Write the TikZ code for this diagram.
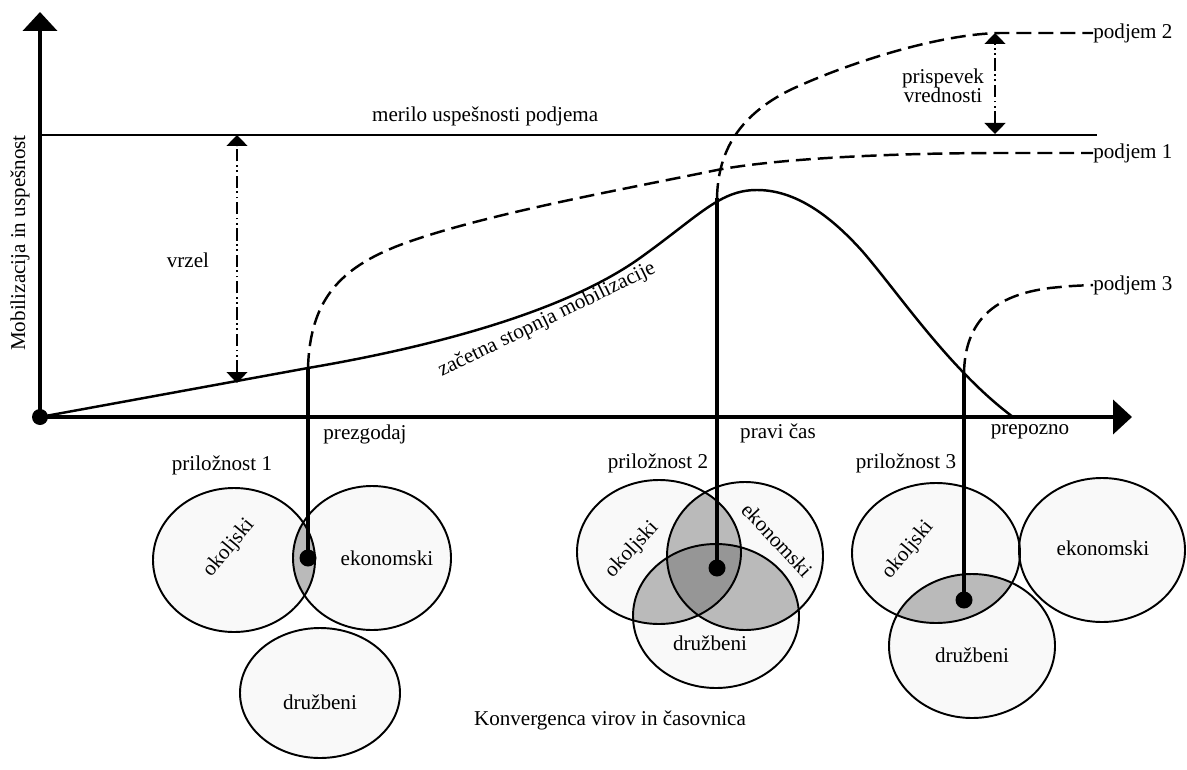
\documentclass[tikz,border=0pt]{standalone}
\usepackage{fontspec}
\setmainfont{Liberation Serif}
\usepackage{tikz}
\usetikzlibrary{arrows.meta, positioning, calc}
\definecolor{setfill}{RGB}{249,249,249}
\definecolor{lensgray}{RGB}{186,186,186}
\definecolor{coregray}{RGB}{150,150,150}
\tikzset{
  axis/.style={line width=2.3pt, -{Triangle[length=0.38cm, width=0.68cm]}},
  bar/.style={line width=1.7pt},
  curve/.style={line width=1.4pt},
  trail/.style={line width=1.4pt, dash pattern=on 8.5pt off 4pt},
  span/.style={line width=0.8pt,
    {Triangle[length=0.22cm, width=0.42cm]}-{Triangle[length=0.22cm, width=0.42cm]},
    dash pattern=on 7pt off 2pt on 1pt off 2pt on 1pt off 2pt},
  setring/.style={line width=1.1pt},
  riser/.style={line width=1.8pt},
  lbl/.style={font=\fontsize{12}{14}\selectfont, inner sep=1pt},
  pin/.style={circle, fill=black, inner sep=0pt, minimum size=0.34cm}
}
% set outlines (x = px, y = px downwards)
\def\okA{(234,560) ellipse [x radius=81, y radius=72]}
\def\ekA{(372,558) ellipse [x radius=79, y radius=72]}
\def\drA{(320,693) ellipse [x radius=80, y radius=65]}
\def\okB{(659,552) ellipse [x radius=82, y radius=72]}
\def\ekB{(745,556) ellipse [x radius=78, y radius=74]}
\def\drB{(716,616) ellipse [x radius=83, y radius=72]}
\def\okC{(936,553) ellipse [x radius=84, y radius=70]}
\def\ekC{(1102,550) ellipse [x radius=83, y radius=72]}
\def\drC{(972,646) ellipse [x radius=83, y radius=72]}

\begin{document}
\begin{tikzpicture}[x=0.2mm, y=-0.2mm]
  \useasboundingbox (0,0) rectangle (1187,769);

  % Sets: fills
  \fill[setfill] \okA; \fill[setfill] \ekA; \fill[setfill] \drA;
  \fill[setfill] \okB; \fill[setfill] \ekB; \fill[setfill] \drB;
  \fill[setfill] \okC; \fill[setfill] \ekC; \fill[setfill] \drC;

  % Overlaps
  \begin{scope}\clip \okA; \fill[lensgray] \ekA; \end{scope}
  \begin{scope}\clip \okB; \fill[lensgray] \ekB; \fill[lensgray] \drB; \end{scope}
  \begin{scope}\clip \ekB; \fill[lensgray] \drB; \end{scope}
  \begin{scope}\clip \okB; \clip \ekB; \fill[coregray] \drB; \end{scope}
  \begin{scope}\clip \okC; \fill[lensgray] \drC; \end{scope}

  % Sets: outlines
  \draw[setring] \okA; \draw[setring] \ekA; \draw[setring] \drA;
  \draw[setring] \okB; \draw[setring] \ekB; \draw[setring] \drB;
  \draw[setring] \okC; \draw[setring] \ekC; \draw[setring] \drC;

  % Axes
  \node[pin, minimum size=0.32cm] (o) at (40,417) {};
  \coordinate (ytip) at (40,12);
  \coordinate (xtip) at (1132,417);
  \draw[axis] (o.center) -- (ytip);
  \draw[axis] (o.center) -- (xtip);
  \node[lbl, rotate=90] (ylab) at (20,243) {Mobilizacija in uspešnost};

  % Success level
  \coordinate (barl) at (40,135);
  \coordinate (barr) at (1097,135);
  \draw[bar] (barl) -- (barr);
  \node[lbl, anchor=base west] (barlab) at (370,122) {merilo uspešnosti podjema};

  % Initial mobilization
  \coordinate (rise1) at (308,368);
  \coordinate (peak) at (757,190);
  \coordinate (fade) at (1013,417);
  \draw[curve] (o.center) -- (rise1)
    .. controls (420,349) and (560,315) .. (640,258)
    .. controls (700,215) and (720,190) .. (peak)
    .. controls (795,190) and (830,215) .. (863,252)
    .. controls (900,295) and (950,370) .. (fade);
  \node[lbl, rotate=26] (initlab) at (547,320) {začetna stopnja mobilizacije};

  % Gap
  \coordinate (gaptop) at (237,135);
  \coordinate (gapbot) at (237,383);
  \draw[span] (gapbot) -- (gaptop);
  \node[lbl] (gaplab) at (188,260) {vrzel};

  % Opportunity 1
  \node[pin] (hit1) at (308,558) {};
  \draw[riser] (hit1.center) -- (rise1);
  \node[lbl, anchor=west, inner sep=0pt] (p1lab) at (1093,153) {podjem 1};
  \draw[trail] (rise1) .. controls (310,300) and (340,268) .. (400,245)
    .. controls (480,215) and (620,190) .. (717,170)
    .. controls (780,158) and (900,153) .. (1000,153) -- (p1lab.west);

  % Opportunity 2
  \node[pin] (hit2) at (717,568) {};
  \coordinate (rise2) at (717,198);
  \draw[riser] (hit2.center) -- (rise2);
  \node[lbl, anchor=west, inner sep=0pt] (p2lab) at (1093,33) {podjem 2};
  \draw[trail] (rise2) .. controls (718,150) and (740,115) .. (790,90)
    .. controls (850,62) and (940,34) .. (1000,33) -- (p2lab.west);

  % Value contribution
  \coordinate (addtop) at (995,33);
  \coordinate (addbot) at (995,134);
  \draw[span] (addbot) -- (addtop);
  \node[lbl, align=center] (addlab) at (943,86) {prispevek\\[-3pt]vrednosti};

  % Opportunity 3
  \node[pin] (hit3) at (964,600) {};
  \coordinate (rise3) at (964,373);
  \draw[riser] (hit3.center) -- (rise3);
  \node[lbl, anchor=west, inner sep=0pt] (p3lab) at (1093,285) {podjem 3};
  \draw[trail] (rise3) .. controls (965,320) and (995,295) .. (1050,288)
    .. controls (1070,286) .. (p3lab.west);

  % Timing labels
  \node[lbl] (early) at (365,434) {prezgodaj};
  \node[lbl] (ontime) at (778,433) {pravi čas};
  \node[lbl] (late) at (1030,432) {prepozno};
  \node[lbl] (opp1) at (222,465) {priložnost 1};
  \node[lbl] (opp2) at (658,463) {priložnost 2};
  \node[lbl] (opp3) at (906,463) {priložnost 3};

  % Set labels
  \node[lbl, rotate=50] (okl1) at (229,548) {okoljski};
  \node[lbl] (ekl1) at (387,558) {ekonomski};
  \node[lbl] (drl1) at (320,702) {družbeni};
  \node[lbl, rotate=47] (okl2) at (632,550) {okoljski};
  \node[lbl, rotate=-47] (ekl2) at (777,540) {ekonomski};
  \node[lbl] (drl2) at (710,643) {družbeni};
  \node[lbl, rotate=50] (okl3) at (908,550) {okoljski};
  \node[lbl] (ekl3) at (1103,548) {ekonomski};
  \node[lbl] (drl3) at (972,655) {družbeni};

  % Caption
  \node[lbl] (caption) at (610,720) {Konvergenca virov in časovnica};
\end{tikzpicture}
\end{document}
